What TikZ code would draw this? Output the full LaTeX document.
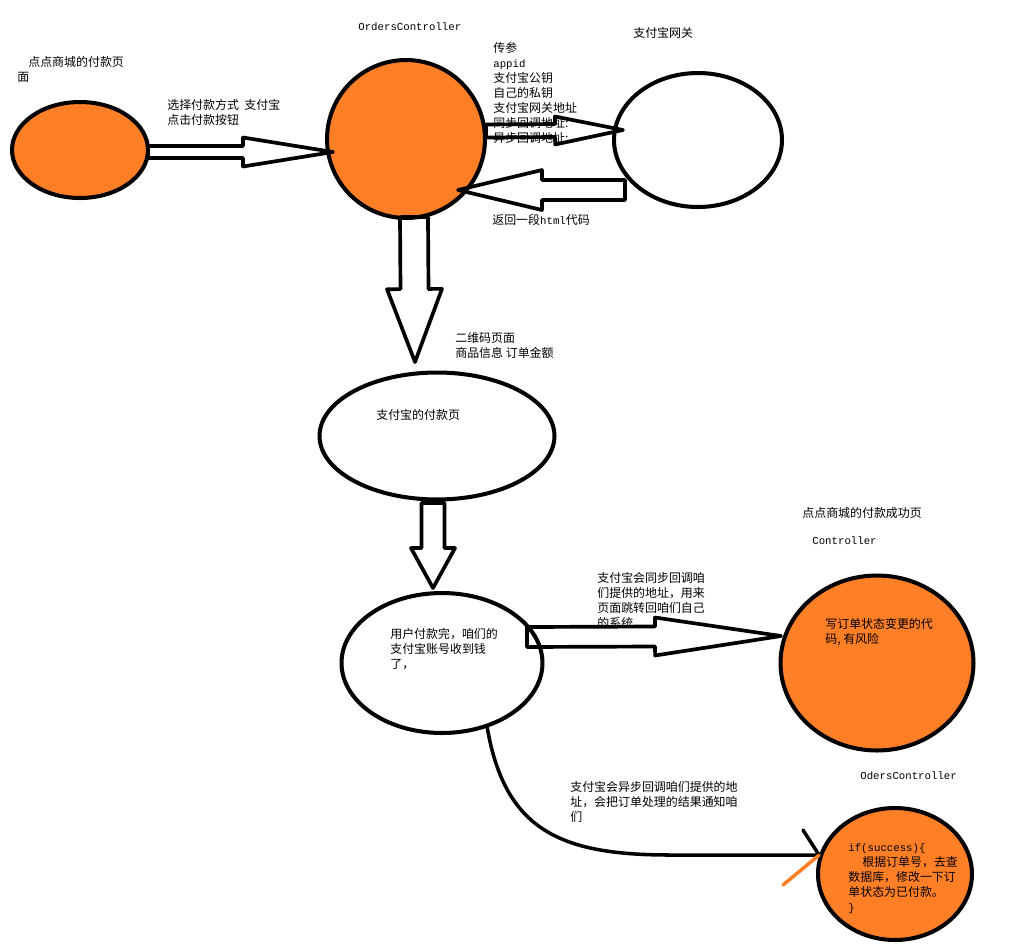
\documentclass[tikz,border=0pt]{standalone}
\usepackage{fontspec}
\setmainfont{Noto Sans CJK SC}
\setmonofont{Liberation Mono}
\usepackage{xcolor}
\usepackage{tikz}
\usetikzlibrary{calc,shapes.geometric}
\definecolor{payorange}{RGB}{255,127,39}

\newcommand{\codetxt}[1]{{\fontsize{6.1pt}{8.5pt}\selectfont\ttfamily #1}}
% hollow block arrow: tail, tip, shaft half width, head half width, head length
\newcommand{\fatarrow}[5]{%
  \coordinate (fh) at ($(#2)!#5!(#1)$);
  \draw[fat] ($(#1)!#3!90:(#2)$) -- ($(fh)!#3!90:(#2)$) -- ($(fh)!#4!90:(#2)$)
    -- (#2) -- ($(fh)!#4!-90:(#2)$) -- ($(fh)!#3!-90:(#2)$) -- ($(#1)!#3!-90:(#2)$) -- cycle;
}

\tikzset{
  blob/.style={ellipse, draw, line width=2.3pt, inner sep=0pt},
  hotblob/.style={blob, fill=payorange},
  fat/.style={line width=2.1pt, line join=round},
  link/.style={line width=2pt, line cap=round},
  % placed at the baseline of the last line
  lbl/.style={anchor=base west, inner sep=0pt, align=left,
    font=\fontsize{6.8pt}{8.5pt}\selectfont},
}

\begin{document}
\begin{tikzpicture}[x=0.02cm,y=-0.02cm]
  \useasboundingbox (0,0) rectangle (1029,948);

  % pages and controllers
  \node[hotblob, minimum width=2.72cm, minimum height=1.92cm] (shop) at (80,150) {};
  \node[hotblob, minimum width=3.16cm, minimum height=3.16cm] (orders) at (406,139) {};
  \node[blob, minimum width=3.36cm, minimum height=2.68cm] (gateway) at (698,140) {};
  \node[blob, minimum width=4.70cm, minimum height=2.54cm] (paypage) at (437,436) {};
  \node[blob, minimum width=4.02cm, minimum height=2.80cm] (paid) at (442,663) {};
  \node[hotblob, minimum width=3.86cm, minimum height=3.50cm] (okctl) at (877,663) {};
  \node[hotblob, minimum width=3.08cm, minimum height=2.64cm] (notify) at (895,874) {};

  % block arrows
  \coordinate (a1s) at (148,152);  \coordinate (a1t) at (333,152);
  \coordinate (a2s) at (486,131);  \coordinate (a2t) at (623,130);
  \coordinate (a3s) at (625,190);  \coordinate (a3t) at (458,190);
  \coordinate (a4s) at (414,217);  \coordinate (a4t) at (415,362);
  \coordinate (a5s) at (433,503);  \coordinate (a5t) at (433,588);
  \coordinate (a6s) at (527,637);  \coordinate (a6t) at (781,636);
  \fatarrow{a1s}{a1t}{0.12cm}{0.29cm}{1.8cm}
  \fatarrow{a2s}{a2t}{0.13cm}{0.28cm}{1.36cm}
  \fatarrow{a3s}{a3t}{0.2cm}{0.4cm}{1.68cm}
  \fatarrow{a4s}{a4t}{0.28cm}{0.55cm}{1.46cm}
  \fatarrow{a5s}{a5t}{0.23cm}{0.44cm}{0.8cm}
  \fatarrow{a6s}{a6t}{0.2cm}{0.38cm}{2.52cm}

  % async callback
  \draw[link] (paid.-55) .. controls (505,830) and (560,855) .. (670,855) -- (notify.166);
  \coordinate (tick1) at (803,830);
  \coordinate (tick2) at (783,885);
  \draw[link] (tick1) -- (notify.166);
  \draw[link, payorange] (tick2) -- (notify.166);

  % labels
  \node[lbl] (tshop) at (17,81) {\hspace*{0.22cm}点点商城的付款页\\面};
  \node[lbl] (tsel) at (167,124) {选择付款方式\ \ 支付宝\\点击付款按钮};
  \node[lbl] (torders) at (358,30) {\codetxt{OrdersController}};
  \node[lbl] (tgw) at (633,37) {支付宝网关};
  \node[lbl] (tparam) at (493,142) {传参\\\codetxt{appid}\\支付宝公钥\\自己的私钥\\支付宝网关地址\\同步回调地址:\\异步回调地址;};
  \node[lbl] (tret) at (492,224) {返回一段\codetxt{html}代码};
  \node[lbl] (tqr) at (455,357) {二维码页面\\商品信息\ 订单金额};
  \node[lbl] (tpay) at (376,419) {支付宝的付款页};
  \node[lbl] (tok) at (802,517) {点点商城的付款成功页};
  \node[lbl] (tctl) at (812,544) {\codetxt{Controller}};
  \node[lbl] (tsync) at (597,627) {支付宝会同步回调咱\\们提供的地址，用来\\页面跳转回咱们自己\\的系统};
  \node[lbl] (tpaid) at (390,668) {用户付款完，咱们的\\支付宝账号收到钱\\了，};
  \node[lbl] (trisk) at (825,643) {写订单状态变更的代\\码, 有风险};
  \node[lbl] (todc) at (860,779) {\codetxt{OdersController}};
  \node[lbl] (tasync) at (570,821) {支付宝会异步回调咱们提供的地\\址，会把订单处理的结果通知咱\\们};
  \node[lbl] (tcode) at (848,911) {\codetxt{if(success)\{}\\\hspace*{0.28cm}根据订单号，去查\\数据库，修改一下订\\单状态为已付款。\\\codetxt{\}}};
\end{tikzpicture}
\end{document}
